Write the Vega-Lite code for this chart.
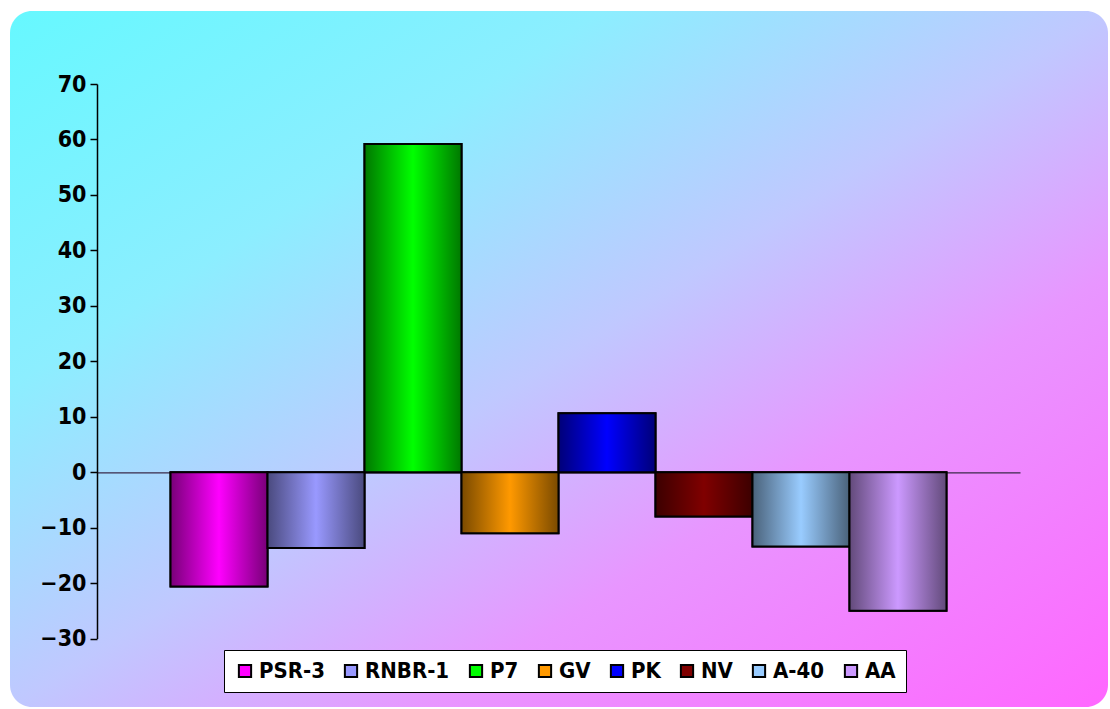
{
  "$schema": "https://vega.github.io/schema/vega-lite/v6.json",
  "width": 1098,
  "height": 696,
  "autosize": {"type": "none"},
  "padding": {"left": 10, "top": 11, "right": 2, "bottom": 2},
  "background": "white",
  "config": {
    "view": {
      "stroke": null,
      "cornerRadius": 22,
      "fill": {
        "gradient": "linear", "x1": 0, "y1": 0, "x2": 1, "y2": 1,
        "stops": [
          {"offset": 0, "color": "#66f8ff"},
          {"offset": 0.27, "color": "#8ceeff"},
          {"offset": 0.5, "color": "#c0c8ff"},
          {"offset": 0.69, "color": "#e896ff"},
          {"offset": 1, "color": "#ff66ff"}
        ]
      }
    },
    "font": "Liberation Sans Narrow, Arial Narrow, DejaVu Sans Condensed, sans-serif"
  },
  "data": {
    "values": [
      {"variety": "PSR-3", "value": -20.6},
      {"variety": "RNBR-1", "value": -13.7},
      {"variety": "P7", "value": 59.2},
      {"variety": "GV", "value": -11.0},
      {"variety": "PK", "value": 10.6},
      {"variety": "NV", "value": -8.0},
      {"variety": "A-40", "value": -13.4},
      {"variety": "AA", "value": -25.0}
    ]
  },
  "encoding": {
    "x": {
      "field": "variety", "type": "nominal", "sort": null,
      "scale": {"range": [87, 1010], "paddingInner": 0, "paddingOuter": 0.758},
      "axis": {"orient": "bottom", "offset": -234.7, "labels": false, "ticks": false, "title": null, "domainColor": "#3a2a4a", "domainWidth": 1.2}
    },
    "y": {
      "field": "value", "type": "quantitative",
      "scale": {"domain": [-30, 70], "range": [627.5, 73], "nice": false, "zero": false},
      "axis": {
        "values": [-30, -20, -10, 0, 10, 20, 30, 40, 50, 60, 70],
        "offset": -87, "title": null, "grid": false,
        "tickSize": 7, "tickColor": "black", "tickWidth": 1.5,
        "domainColor": "black", "domainWidth": 1.5,
        "labelFont": "Liberation Sans Narrow, Arial Narrow, DejaVu Sans Condensed, sans-serif",
        "labelFontSize": 23, "labelFontWeight": "bold", "labelColor": "black", "labelPadding": 4
      }
    }
  },
  "layer": [
    {
      "mark": {"type": "bar", "stroke": "black", "strokeWidth": 2},
      "encoding": {
        "color": {
          "field": "variety", "type": "nominal", "sort": null,
          "scale": {
            "domain": ["PSR-3", "RNBR-1", "P7", "GV", "PK", "NV", "A-40", "AA"],
            "range": ["#ff00ff", "#9999ff", "#00ff00", "#ff9900", "#0000ff", "#800000", "#99ccff", "#cc99ff"]
          },
          "legend": {
            "orient": "none", "legendX": 214, "legendY": 639,
            "direction": "horizontal", "columns": 8, "title": null,
            "fillColor": "white", "strokeColor": "black", "padding": 10,
            "symbolType": "square", "symbolSize": 150, "symbolStrokeColor": "black", "symbolStrokeWidth": 2,
            "labelFont": "Liberation Sans Narrow, Arial Narrow, DejaVu Sans Condensed, sans-serif",
            "labelFontSize": 22, "labelFontWeight": "bold", "labelColor": "black",
            "labelOffset": 3, "columnPadding": 15
          }
        }
      }
    },
    {
      "mark": {"type": "bar", "stroke": "black", "strokeWidth": 2},
      "encoding": {
        "fill": {
          "condition": [
            {"test": "datum.variety === 'PSR-3'", "value": {"gradient": "linear", "x1": 0, "y1": 0, "x2": 1, "y2": 0, "stops": [{"offset": 0, "color": "#780078"}, {"offset": 0.5, "color": "#ff00ff"}, {"offset": 1, "color": "#780078"}]}},
            {"test": "datum.variety === 'RNBR-1'", "value": {"gradient": "linear", "x1": 0, "y1": 0, "x2": 1, "y2": 0, "stops": [{"offset": 0, "color": "#4a4a7e"}, {"offset": 0.5, "color": "#9999ff"}, {"offset": 1, "color": "#4a4a7e"}]}},
            {"test": "datum.variety === 'P7'", "value": {"gradient": "linear", "x1": 0, "y1": 0, "x2": 1, "y2": 0, "stops": [{"offset": 0, "color": "#007800"}, {"offset": 0.5, "color": "#00ff00"}, {"offset": 1, "color": "#007800"}]}},
            {"test": "datum.variety === 'GV'", "value": {"gradient": "linear", "x1": 0, "y1": 0, "x2": 1, "y2": 0, "stops": [{"offset": 0, "color": "#7a4a00"}, {"offset": 0.5, "color": "#ff9900"}, {"offset": 1, "color": "#7a4a00"}]}},
            {"test": "datum.variety === 'PK'", "value": {"gradient": "linear", "x1": 0, "y1": 0, "x2": 1, "y2": 0, "stops": [{"offset": 0, "color": "#000078"}, {"offset": 0.5, "color": "#0000ff"}, {"offset": 1, "color": "#000078"}]}},
            {"test": "datum.variety === 'NV'", "value": {"gradient": "linear", "x1": 0, "y1": 0, "x2": 1, "y2": 0, "stops": [{"offset": 0, "color": "#3c0000"}, {"offset": 0.5, "color": "#800000"}, {"offset": 1, "color": "#3c0000"}]}},
            {"test": "datum.variety === 'A-40'", "value": {"gradient": "linear", "x1": 0, "y1": 0, "x2": 1, "y2": 0, "stops": [{"offset": 0, "color": "#4a627a"}, {"offset": 0.5, "color": "#99ccff"}, {"offset": 1, "color": "#4a627a"}]}},
            {"test": "datum.variety === 'AA'", "value": {"gradient": "linear", "x1": 0, "y1": 0, "x2": 1, "y2": 0, "stops": [{"offset": 0, "color": "#624a7a"}, {"offset": 0.5, "color": "#cc99ff"}, {"offset": 1, "color": "#624a7a"}]}}
          ],
          "value": "gray"
        }
      }
    }
  ]
}
